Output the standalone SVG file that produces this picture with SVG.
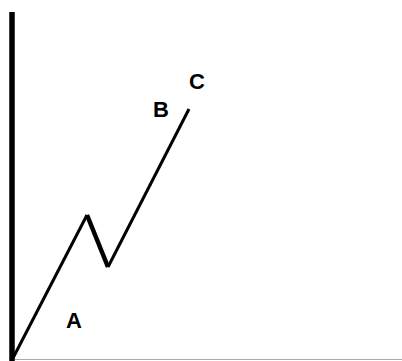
<svg xmlns="http://www.w3.org/2000/svg" width="402" height="361" viewBox="0 0 402 361">
<style>
.lbl{font-family:"Liberation Sans",Arial,sans-serif;font-weight:bold;font-size:22px;fill:#000}
</style>
<rect width="402" height="361" fill="#fff"/>
<g id="axes">
<line x1="15" y1="359.5" x2="402" y2="359.5" stroke="#aaa" stroke-width="1"/>
<line x1="12" y1="12" x2="12" y2="361" stroke="#000" stroke-width="5.5"/>
</g>
<g id="connectors" fill="none" stroke="#000" stroke-linejoin="round" stroke-linecap="butt">
<path d="M13,358 L87,215" stroke-width="3"/>
<path d="M87,215 L108,267" stroke-width="4.5"/>
<path d="M108,267 L189,109" stroke-width="3"/>
</g>
<g id="labelA"><text class="lbl" x="66" y="328">A</text></g>
<g id="labelB"><text class="lbl" x="153" y="117">B</text></g>
<g id="labelC"><text class="lbl" x="189" y="89">C</text></g>
</svg>
